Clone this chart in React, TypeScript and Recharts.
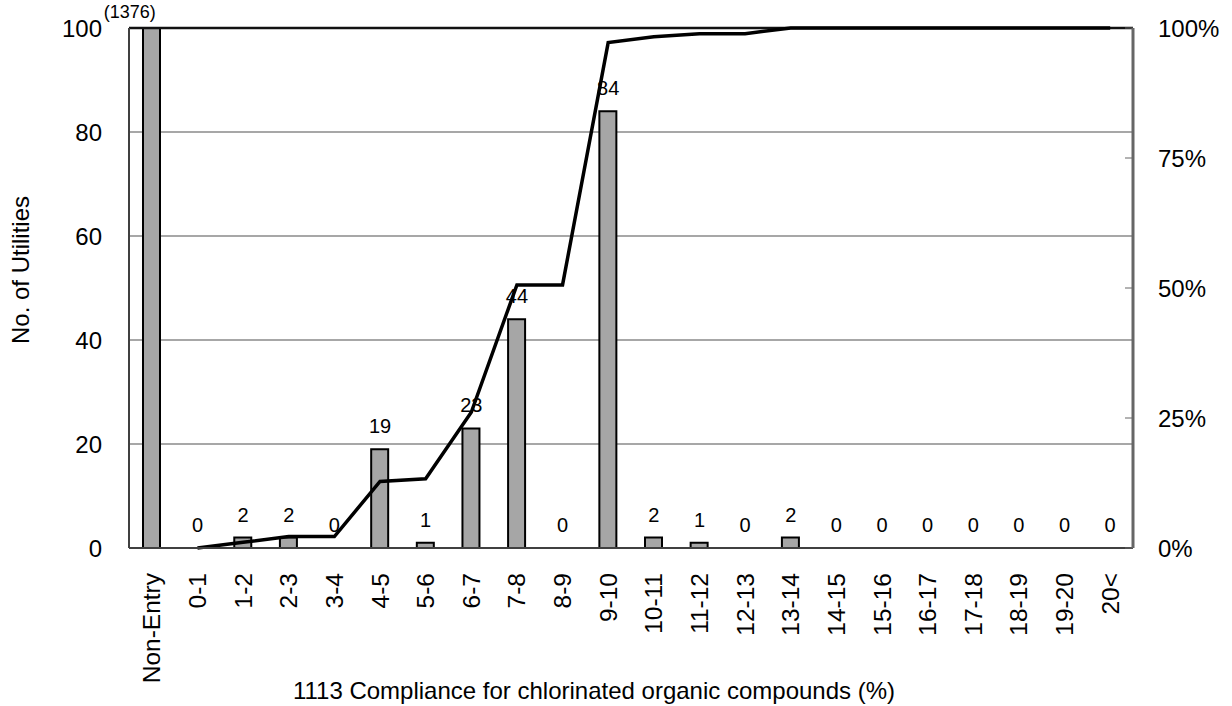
import React from "react"
import {
  Bar,
  CartesianGrid,
  ComposedChart,
  LabelList,
  Line,
  ReferenceDot,
  ReferenceLine,
  XAxis,
  YAxis,
} from "recharts"

const categories = [
  "Non-Entry", "0-1", "1-2", "2-3", "3-4", "4-5", "5-6", "6-7", "7-8", "8-9", "9-10",
  "10-11", "11-12", "12-13", "13-14", "14-15", "15-16", "16-17", "17-18", "18-19", "19-20", "20<",
]
const utilities = [1376, 0, 2, 2, 0, 19, 1, 23, 44, 0, 84, 2, 1, 0, 2, 0, 0, 0, 0, 0, 0, 0]
const cumulativePct = [
  null, 0, 1.1, 2.2, 2.2, 12.8, 13.3, 26.1, 50.6, 50.6, 97.2,
  98.3, 98.9, 98.9, 100, 100, 100, 100, 100, 100, 100, 100,
]
const countTicks = [0, 20, 40, 60, 80, 100]
const pctTicks = [0, 25, 50, 75, 100]

const data = categories.map((name, i) => ({
  name,
  count: utilities[i],
  cum: cumulativePct[i],
}))

const FONT = "'Liberation Sans', Arial, sans-serif"
const COUNT_MAX = 100

const XTick = (props: any) => {
  const { x, y, payload } = props
  return (
    <text
      transform={`translate(${x},${y + 25}) rotate(-90)`}
      textAnchor="end"
      dominantBaseline="central"
      fontSize={24.5}
      fontFamily={FONT}
      fill="#000"
    >
      {payload.value}
    </text>
  )
}

// value labels sit above the bar top (or the zero line)
const BarValue = (props: any) => {
  const vb = props.viewBox ?? props
  const x = props.x ?? vb.x
  const y = props.y ?? vb.y
  const value = props.value
  if (value == null || value > COUNT_MAX) return null
  return (
    <text x={x} y={y - 16} textAnchor="middle" fontSize={20} fontFamily={FONT} fill="#000">
      {value}
    </text>
  )
}

const OverflowLabel = (props: any) => {
  const vb = props.viewBox ?? props
  return (
    <text x={vb.x - 22} y={vb.y - 10} textAnchor="middle" fontSize={18} fontFamily={FONT} fill="#000">
      {`(${utilities[0]})`}
    </text>
  )
}

export default function App() {
  return (
    <div style={{ position: "absolute", left: 0, top: 0, width: 1232, height: 706 }}>
      <ComposedChart
        width={1232}
        height={706}
        data={data}
        margin={{ top: 28, right: 0, bottom: 0, left: 0 }}
        style={{ overflow: "visible" }}
      >
        <CartesianGrid yAxisId="left" vertical={false} stroke="#8a8a8a" strokeWidth={1.5} />
        <XAxis
          dataKey="name"
          interval={0}
          height={158}
          tickLine={false}
          tickSize={0}
          tickMargin={0}
          tick={<XTick />}
          axisLine={{ stroke: "#404040", strokeWidth: 2 }}
          label={{
            content: () => (
              <text x={594} y={699} textAnchor="middle" fontSize={24} fontFamily={FONT} fill="#000">
                1113 Compliance for chlorinated organic compounds (%)
              </text>
            ),
          }}
        />
        <YAxis
          yAxisId="left"
          width={129}
          domain={[0, COUNT_MAX]}
          ticks={countTicks}
          allowDataOverflow
          tickLine={false}
          tickSize={0}
          tickMargin={27}
          tick={{ fontSize: 24, fontFamily: FONT, fill: "#000" }}
          axisLine={{ stroke: "#404040", strokeWidth: 2 }}
          label={{
            content: () => (
              <text
                transform="translate(20,270) rotate(-90)"
                textAnchor="middle"
                dominantBaseline="central"
                fontSize={24}
                fontFamily={FONT}
                fill="#000"
              >
                No. of Utilities
              </text>
            ),
          }}
        />
        <YAxis
          yAxisId="right"
          orientation="right"
          width={99}
          domain={[0, 100]}
          ticks={pctTicks}
          tickFormatter={(v) => `${v}%`}
          tickSize={-8}
          tickMargin={33}
          tickLine={{ stroke: "#666" }}
          tick={{ fontSize: 24, fontFamily: FONT, fill: "#000", textAnchor: "start" }}
          axisLine={{ stroke: "#666", strokeWidth: 3 }}
        />
        <ReferenceLine yAxisId="left" y={COUNT_MAX} stroke="#111" strokeWidth={2.5} />
        <Bar
          yAxisId="left"
          dataKey="count"
          fill="#a6a6a6"
          stroke="#000"
          strokeWidth={2}
          barSize={17}
          isAnimationActive={false}
        />
        {/* invisible carrier for the count labels, so zero values get one too */}
        <Line
          yAxisId="left"
          dataKey="count"
          stroke="none"
          dot={false}
          activeDot={false}
          legendType="none"
          isAnimationActive={false}
        >
          <LabelList dataKey="count" content={<BarValue />} />
        </Line>
        <Line
          yAxisId="right"
          dataKey="cum"
          type="linear"
          stroke="#000"
          strokeWidth={3.5}
          dot={false}
          activeDot={false}
          isAnimationActive={false}
        />
        <ReferenceDot
          yAxisId="left"
          x={categories[0]}
          y={COUNT_MAX}
          r={0}
          fill="none"
          stroke="none"
          ifOverflow="visible"
          label={{ content: <OverflowLabel /> }}
        />
      </ComposedChart>
    </div>
  )
}
